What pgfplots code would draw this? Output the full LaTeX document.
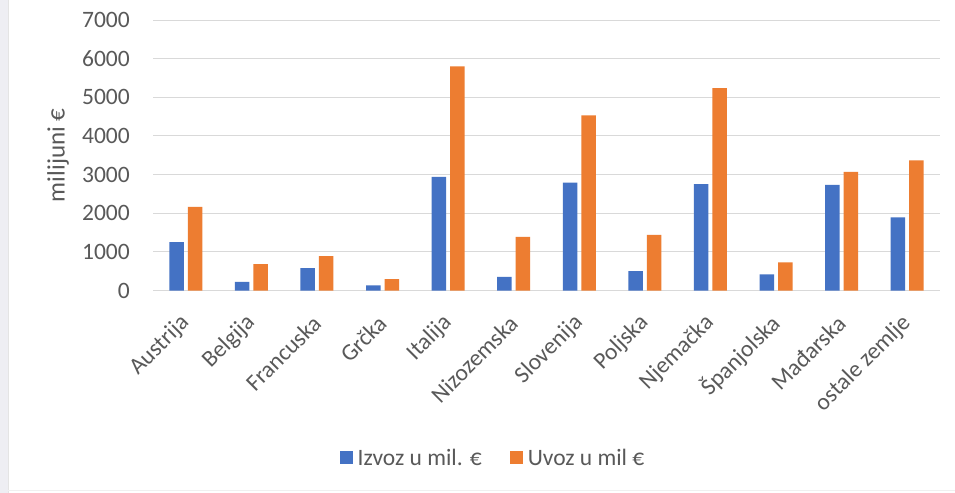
\documentclass[border=0pt]{standalone}
\usepackage{fontspec}
\setmainfont{Carlito}
\usepackage{pgfplots}
\pgfplotsset{compat=1.18}
\usepackage{pgfplotstable}

\definecolor{izvoz}{HTML}{4472C4}
\definecolor{uvoz}{HTML}{ED7D31}
\definecolor{gridgray}{HTML}{D9D9D9}
\definecolor{labelgray}{HTML}{595959}
\definecolor{framegray}{HTML}{EEEEF3}

\newcommand{\chartfont}{\fontsize{23.5bp}{28bp}\selectfont}

% trade by country, millions of euro
\pgfplotstableread{
idx izvoz uvoz
0   1250  2165
1   225   680
2   580   890
3   130   295
4   2940  5800
5   355   1390
6   2790  4530
7   500   1440
8   2750  5240
9   415   725
10  2735  3070
11  1890  3365
}\tradedata

\begin{document}
\begin{tikzpicture}
\useasboundingbox (0bp,0bp) rectangle (955bp,493bp);
\fill[white] (0bp,0bp) rectangle (955bp,493bp);
\fill[framegray] (0bp,0bp) rectangle (8bp,493bp);
\draw[gridgray!70, line width=0.8bp] (8bp,0bp) -- (8bp,493bp);
\draw[gridgray!40, line width=0.8bp] (8bp,3bp) -- (955bp,3bp);
\begin{axis}[
  at={(153bp,202.5bp)}, anchor=south west,
  scale only axis,
  width=787bp, height=270.5bp,
  xmin=-0.5, xmax=11.5,
  ymin=0, ymax=7000,
  ytick={0,1000,...,7000},
  xtick={0,...,11},
  xticklabels={Austrija, Belgija, Francuska, Grčka, Italija, Nizozemska,
    Slovenija, Poljska, Njemačka, Španjolska, Mađarska, ostale zemlje},
  ymajorgrids,
  grid style={gridgray, line width=1bp},
  axis x line*=bottom,
  axis y line*=left,
  x axis line style={gridgray, line width=1bp, -},
  y axis line style={draw=none},
  major tick length=0pt,
  /pgf/number format/assume math mode=true,
  /pgf/number format/1000 sep={},
  yticklabel style={font=\chartfont, text=labelgray, anchor=east, inner sep=0pt, xshift=-23bp},
  xticklabel style={font=\chartfont, text=labelgray, inner sep=0pt, yshift=-29bp, rotate=45, anchor=east},
  ylabel={milijuni €},
  every axis y label/.style={at={(axis description cs:-0.1207,0.5)}, rotate=90, anchor=center,
    font=\fontsize{25bp}{30bp}\selectfont, text=labelgray},
  ybar,
  bar width=14.5bp,
  legend columns=2,
  legend style={at={(axis description cs:0.432,-0.618)}, anchor=center,
    draw=none, fill=none, font=\chartfont, text=labelgray,
    /tikz/every odd column/.append style={column sep=3bp},
    /tikz/every even column/.append style={column sep=26bp},
    legend cell align=left},
  legend image code/.code={\fill[#1,draw=none] (0bp,-6.5bp) rectangle (13bp,6.5bp);},
]
\addplot[fill=izvoz, draw=none, bar shift=-9.25bp] table[x=idx, y=izvoz] {\tradedata};
\addplot[fill=uvoz, draw=none, bar shift=9.25bp] table[x=idx, y=uvoz] {\tradedata};
\legend{Izvoz u mil. €, Uvoz u mil €}
\end{axis}
\end{tikzpicture}
\end{document}
